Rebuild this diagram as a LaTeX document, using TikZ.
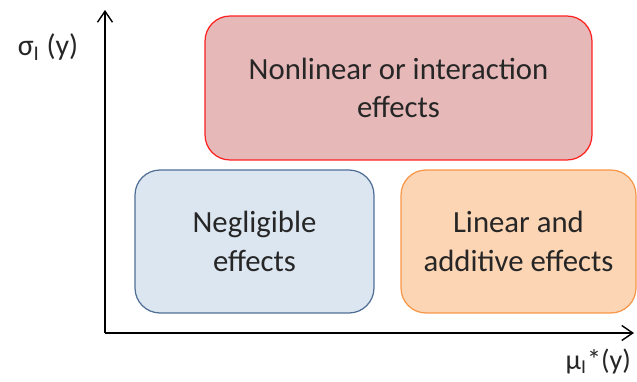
\documentclass[tikz,border=0pt]{standalone}
\usepackage{fontspec}
\setmainfont{Carlito}
\usetikzlibrary{arrows.meta,positioning}

\tikzset{
  effectbox/.style={draw, rounded corners=0.5cm, line width=0.7pt,
    align=center, font=\fontsize{17.5}{22}\selectfont, text=black!85},
  axis/.style={line width=0.8pt, -{Straight Barb[length=2.2mm,width=3mm]}}
}

\begin{document}
\begin{tikzpicture}[x=0.02cm, y=-0.02cm]
    \definecolor{boxred}{HTML}{FF2020}
    \definecolor{redfill}{HTML}{E6B8B8}
    \definecolor{boxbluefill}{HTML}{DCE6F1}
    \definecolor{boxblue}{HTML}{4F6E96}
    \definecolor{boxorangefill}{HTML}{FCD5B4}
    \definecolor{boxorange}{HTML}{F79646}

    \useasboundingbox (0,0) rectangle (637,382);

    % axes
    \coordinate (origin) at (105,333);
    \coordinate (ytip)   at (105,10);
    \coordinate (xtip)   at (634,333);
    \draw[axis] (origin) -- (ytip);
    \draw[axis] (origin) -- (xtip);

    % axis labels
    \node[font=\fontsize{17}{19}\selectfont, text=black!85] (ylab) at (48,47)
        {σ\textsubscript{I} (y)};
    \node[font=\fontsize{16}{19}\selectfont, text=black!85, anchor=east] (xlab) at (637,361)
        {μ\textsubscript{I}*(y)};

    % the three regions
    \node[effectbox, draw=boxred, fill=redfill,
          minimum width=7.74cm, minimum height=2.88cm] (nonlin) at (398.5,88)
        {Nonlinear or interaction\\effects};
    \node[effectbox, draw=boxblue, fill=boxbluefill,
          minimum width=4.78cm, minimum height=2.86cm] (neglig) at (254.5,241.5)
        {Negligible\\effects};
    \node[effectbox, draw=boxorange, fill=boxorangefill,
          minimum width=4.7cm, minimum height=2.86cm] (linadd) at (518.5,241.5)
        {Linear and\\additive effects};
\end{tikzpicture}
\end{document}
